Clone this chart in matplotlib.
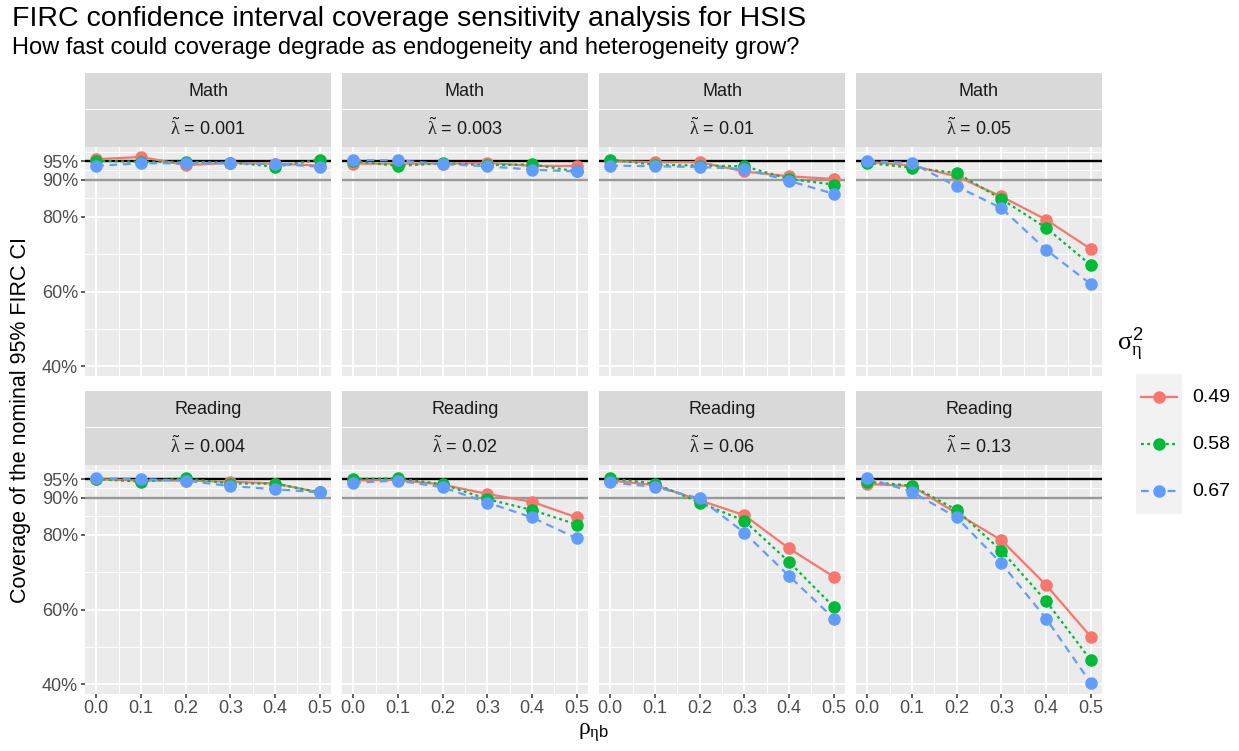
import matplotlib
matplotlib.use("Agg")
import matplotlib.pyplot as plt
from matplotlib.patches import Rectangle

plt.rcParams['font.family'] = ['Liberation Sans', 'DejaVu Sans']
plt.rcParams['mathtext.fontset'] = 'custom'
plt.rcParams['mathtext.rm'] = 'Liberation Sans'
plt.rcParams['mathtext.it'] = 'Liberation Serif'
plt.rcParams['mathtext.bf'] = 'Liberation Sans:bold'

rho = [0.0, 0.1, 0.2, 0.3, 0.4, 0.5]
subjects = ["Math", "Math", "Math", "Math", "Reading", "Reading", "Reading", "Reading"]
lambdas = ["0.001", "0.003", "0.01", "0.05", "0.004", "0.02", "0.06", "0.13"]
sigma_labels = ["0.49", "0.58", "0.67"]

# coverage (%) per panel, per sigma^2 level (0.49, 0.58, 0.67)
cov_049 = [
    [95.5, 96.1, 93.9, 94.5, 94.3, 93.8],
    [94.3, 94.3, 94.3, 94.5, 93.7, 93.7],
    [95.0, 94.7, 94.7, 92.2, 90.9, 90.2],
    [94.8, 93.8, 90.9, 85.5, 79.3, 71.4],
    [95.0, 94.6, 94.6, 94.3, 93.8, 91.4],
    [94.6, 94.8, 93.5, 91.0, 88.9, 84.7],
    [94.6, 93.4, 89.3, 85.3, 76.4, 68.8],
    [93.7, 93.1, 85.8, 78.6, 66.6, 52.7],
]
cov_058 = [
    [95.1, 94.8, 94.8, 94.6, 93.5, 95.4],
    [95.0, 93.7, 94.4, 93.9, 94.1, 92.2],
    [95.4, 94.0, 93.8, 93.6, 90.2, 88.7],
    [94.5, 93.2, 91.8, 84.8, 77.1, 67.1],
    [95.0, 94.3, 95.2, 93.8, 93.8, 91.4],
    [95.0, 95.2, 93.6, 89.6, 86.7, 82.8],
    [95.2, 93.8, 88.7, 83.8, 72.8, 60.7],
    [94.3, 93.2, 86.7, 75.8, 62.3, 46.4],
]
cov_067 = [
    [93.7, 94.4, 94.4, 94.4, 94.2, 93.5],
    [95.2, 95.2, 94.2, 93.6, 92.7, 92.2],
    [93.8, 93.6, 93.4, 92.9, 89.7, 86.2],
    [95.0, 94.5, 88.2, 82.4, 71.2, 62.0],
    [95.2, 95.0, 94.6, 93.1, 92.3, 91.4],
    [94.0, 94.6, 92.8, 88.7, 84.7, 79.1],
    [94.1, 92.9, 89.8, 80.6, 69.0, 57.6],
    [95.2, 91.6, 84.7, 72.4, 57.6, 40.3],
]
series = [cov_049, cov_058, cov_067]
colors = ["#F8766D", "#00BA38", "#619CFF"]
styles = ["-", (0, (1.3, 1.5)), (0, (3.5, 2.5))]

W, H = 1239, 751
fig = plt.figure(figsize=(W / 100, H / 100), dpi=100)


def rect(x0, y0, x1, y1):
    return [x0 / W, 1 - y1 / H, (x1 - x0) / W, (y1 - y0) / H]


col_x = [85, 342, 599, 856]
pw = 246
rows = [(73, 146.5, 375.5), (391, 464.5, 693.5)]
ylim = (37.5, 98.9)
grey30 = "#4D4D4D"

for i in range(8):
    r, c = divmod(i, 4)
    x0 = col_x[c]
    st, pt, pb = rows[r]
    ax = fig.add_axes(rect(x0, pt, x0 + pw, pb))
    ax.set_facecolor("#EBEBEB")
    for s in ax.spines.values():
        s.set_visible(False)
    ax.set_xlim(-0.025, 0.525)
    ax.set_ylim(*ylim)
    for v in [50, 70, 85, 92.5, 97.5]:
        ax.axhline(v, color="white", lw=0.7, zorder=0)
    for v in [0.05, 0.15, 0.25, 0.35, 0.45]:
        ax.axvline(v, color="white", lw=0.7, zorder=0)
    for v in [40, 60, 80, 90, 95]:
        ax.axhline(v, color="white", lw=1.4, zorder=0)
    for v in rho:
        ax.axvline(v, color="white", lw=1.4, zorder=0)
    ax.axhline(95, color="black", lw=1.7, zorder=1)
    ax.axhline(90, color="#999999", lw=1.7, zorder=1)
    for k in range(3):
        ax.plot(rho, series[k][i], color=colors[k], ls=styles[k], lw=1.6,
                marker="o", ms=8, zorder=3 + k)
    ax.set_yticks([40, 60, 80, 90, 95])
    ax.set_xticks(rho)
    ax.tick_params(length=3, width=1.1, color="#333333", labelcolor=grey30,
                   labelsize=13, pad=2)
    if c == 0:
        ax.set_yticklabels(["40%", "60%", "80%", "90%", "95%"])
    else:
        ax.tick_params(axis="y", length=0, labelleft=False)
    if r == 1:
        ax.set_xticklabels(["%.1f" % v for v in rho])
    else:
        ax.tick_params(axis="x", length=0, labelbottom=False)

    # two stacked strips
    mid = (st + pt) / 2
    for (a, b, txt) in [(st, mid - 0.5, subjects[i]),
                        (mid + 0.5, pt, r"$\tilde{\lambda}$ = " + lambdas[i])]:
        sax = fig.add_axes(rect(x0, a, x0 + pw, b))
        sax.set_xlim(0, 1)
        sax.set_ylim(0, 1)
        sax.axis("off")
        sax.add_patch(Rectangle((0, 0), 1, 1, color="#D9D9D9", transform=sax.transAxes))
        sax.text(0.5, 0.5, txt, ha="center", va="center", fontsize=13, color="#1A1A1A")

fig.text(12 / W, 1 - 19 / H, "FIRC confidence interval coverage sensitivity analysis for HSIS",
         fontsize=20.5, va="center", ha="left", color="black")
fig.text(12 / W, 1 - 48 / H, "How fast could coverage degrade as endogeneity and heterogeneity grow?",
         fontsize=17, va="center", ha="left", color="black")
fig.text(21 / W, 1 - 420 / H, "Coverage of the nominal 95% FIRC CI", rotation=90,
         fontsize=15.5, va="center", ha="center")
fig.text(593 / W, 1 - 733 / H, r"$\rho_{\eta\mathrm{b}}$", fontsize=17, va="center", ha="center")

# legend
fig.text(1117 / W, 1 - 345 / H, r"$\sigma^2_{\eta}$", fontsize=19, va="center", ha="left")
lax = fig.add_axes(rect(1136, 374, 1182, 514))
lax.set_xlim(0, 1)
lax.set_ylim(0, 3)
lax.axis("off")
lax.add_patch(Rectangle((0, 0), 1, 3, color="#F2F2F2"))
for k in range(3):
    yk = 2.5 - k
    lax.plot([0.1, 0.9], [yk, yk], color=colors[k], ls=styles[k], lw=1.6)
    lax.plot([0.5], [yk], color=colors[k], marker="o", ms=8)
    fig.text(1192 / W, 1 - (398 + 46.5 * k) / H, sigma_labels[k], fontsize=14,
             va="center", ha="left")

fig.savefig("out.png", dpi=100)
